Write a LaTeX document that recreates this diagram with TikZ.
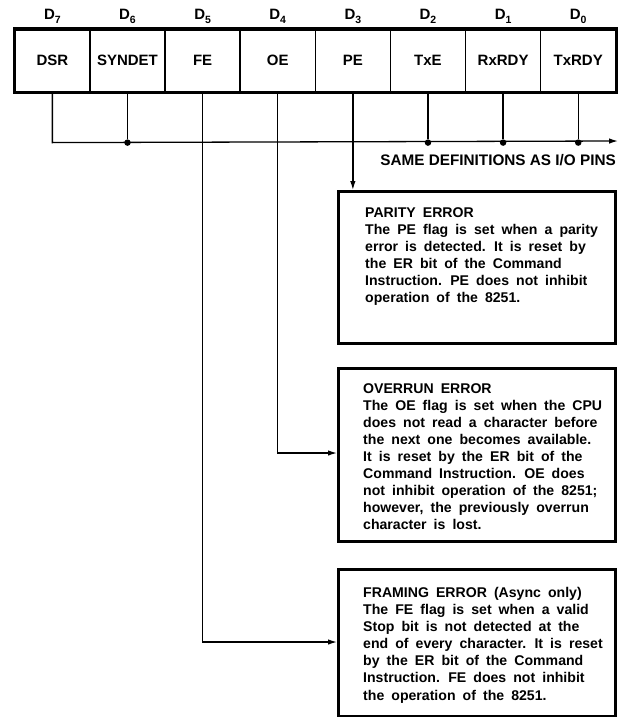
\documentclass[tikz,border=0pt]{standalone}
\usepackage{fontspec}
\setmainfont{Liberation Sans}
\newfontfamily\boxfont{Liberation Sans}[WordSpace=1.8]
\usetikzlibrary{arrows.meta}
\newcommand{\bitsub}[1]{D\raisebox{-3.5pt}{\fontsize{10.5}{10.5}\selectfont #1}}
\begin{document}
\begin{tikzpicture}[x=1pt,y=-1pt,
  cell/.style={draw, line width=1.6pt, minimum width=75.125pt, minimum height=62pt, inner sep=0pt, font=\fontsize{15}{17}\selectfont\bfseries, anchor=north west},
  bitlbl/.style={font=\fontsize{15}{17}\selectfont\bfseries, anchor=base, inner sep=0pt},
  wire/.style={line width=1.3pt},
  arr/.style={wire, -{Latex[length=9pt,width=5.5pt]}},
  jdot/.style={circle, fill, inner sep=0pt, minimum size=6.5pt},
  infobox/.style={draw, line width=2.8pt, anchor=north west, inner sep=0pt, minimum width=277pt},
  infotext/.style={anchor=north west, align=left, inner sep=0pt, font=\boxfont\fontsize{14.1}{17.1}\selectfont\bfseries}
]
\useasboundingbox (0,0) rectangle (630,717);

% register cells
\node[cell] (c7) at (14,29) {DSR};
\node[cell] (c6) at (89.125,29) {SYNDET};
\node[cell] (c5) at (164.25,29) {FE};
\node[cell] (c4) at (239.375,29) {OE};
\node[cell] (c3) at (314.5,29) {PE};
\node[cell] (c2) at (389.625,29) {TxE};
\node[cell] (c1) at (464.75,29) {RxRDY};
\node[cell] (c0) at (539.875,29) {TxRDY};
\draw[line width=3pt] (c7.north west) rectangle (c0.south east);

% bit labels
\node[bitlbl] (d7) at ([yshift=9pt]c7.north) {\bitsub{7}};
\node[bitlbl] (d6) at ([yshift=9pt]c6.north) {\bitsub{6}};
\node[bitlbl] (d5) at ([yshift=9pt]c5.north) {\bitsub{5}};
\node[bitlbl] (d4) at ([yshift=9pt]c4.north) {\bitsub{4}};
\node[bitlbl] (d3) at ([yshift=9pt]c3.north) {\bitsub{3}};
\node[bitlbl] (d2) at ([yshift=9pt]c2.north) {\bitsub{2}};
\node[bitlbl] (d1) at ([yshift=9pt]c1.north) {\bitsub{1}};
\node[bitlbl] (d0) at ([yshift=9pt]c0.north) {\bitsub{0}};

% bus
\path (c7.south) ++(0,50) coordinate (b7);
\coordinate (busend) at (618,141);
\draw[arr] (c7.south) -- (b7) -- (busend);
\node[jdot] (j6) at (c6.south |- b7) {};
\node[jdot] (j2) at (c2.south |- b7) {};
\node[jdot] (j1) at (c1.south |- b7) {};
\node[jdot] (j0) at (c0.south |- b7) {};
\draw[wire] (c6.south) -- (j6);
\draw[wire] (c2.south) -- (j2);
\draw[wire] (c1.south) -- (j1);
\draw[wire] (c0.south) -- (j0);
\node[anchor=base east, inner sep=0pt, font=\fontsize{15.3}{17}\selectfont\bfseries] (same) at (616,165) {SAME DEFINITIONS AS I/O PINS};

% info boxes
\node[infobox, minimum height=152pt] (pbox) at (337,190) {};
\node[infobox, minimum height=173pt] (obox) at (337,367) {};
\node[infobox, minimum height=147pt] (fbox) at (337,568) {};

\node[infotext] (ptext) at (365,207) {PARITY ERROR\\
The PE flag is set when a parity\\
error is detected. It is reset by\\
the ER bit of the Command\\
Instruction. PE does not inhibit\\
operation of the 8251.};

\node[infotext] (otext) at (363,383) {OVERRUN ERROR\\
The OE flag is set when the CPU\\
does not read a character before\\
the next one becomes available.\\
It is reset by the ER bit of the\\
Command Instruction. OE does\\
not inhibit operation of the 8251;\\
however, the previously overrun\\
character is lost.};

\node[infotext] (ftext) at (363,587) {FRAMING ERROR (Async only)\\
The FE flag is set when a valid\\
Stop bit is not detected at the\\
end of every character. It is reset\\
by the ER bit of the Command\\
Instruction. FE does not inhibit\\
the operation of the 8251.};

% connectors to boxes
\draw[arr] (c3.south) -- (c3.south |- pbox.north);
\draw[arr] (c4.south) |- (obox.west |- 0,453);
\draw[arr] (c5.south) |- (fbox.west |- 0,642);
\end{tikzpicture}
\end{document}
